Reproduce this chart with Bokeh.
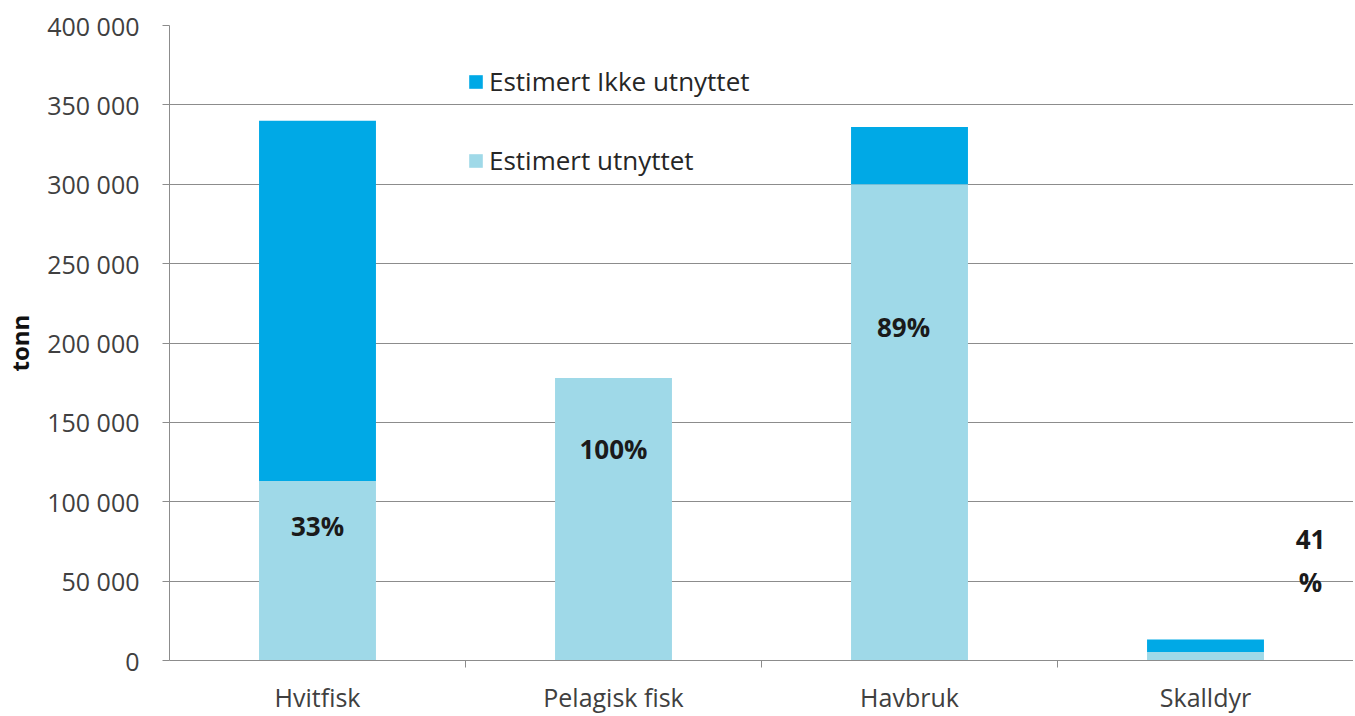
from bokeh.plotting import figure
from bokeh.models import (ColumnDataSource, FixedTicker, Range1d, Legend, LegendItem, LinearAxis, Grid)
from bokeh.core.properties import value
from bokeh.embed import file_html
from bokeh.resources import INLINE

categories = ["Hvitfisk", "Pelagisk fisk", "Havbruk", "Skalldyr"]
utnyttet = [113000, 178000, 300000, 5400]
totalt = [340000, 178000, 336000, 13200]
ikke_utnyttet = [t - u for t, u in zip(totalt, utnyttet)]
pct_labels = ["33%", "100%", "89%", "41\n%"]
pct_label_y = [85000, 133000, 210000, 63000]
pct_label_x_offset = [0.0, 0.0, -0.02, 0.355]
y_ticks = [0, 50000, 100000, 150000, 200000, 250000, 300000, 350000, 400000]
y_tick_labels = ["0", "50 000", "100 000", "150 000", "200 000", "250 000", "300 000", "350 000", "400 000"]

DARK = "#00A9E6"
LIGHT = "#9FD9E8"
GRID = "#8c8c8c"
TXT = "#404040"
FONT = "Open Sans"

xc = [i + 0.5 for i in range(len(categories))]
src = ColumnDataSource(dict(
    x=xc, util=utnyttet, tot=totalt, ikke=ikke_utnyttet,
    lx=[x + o for x, o in zip(xc, pct_label_x_offset)], ly=pct_label_y, lab=pct_labels,
))

p = figure(width=1353, height=716, output_backend="svg", toolbar_location=None,
           x_range=Range1d(0, len(categories)), y_range=Range1d(0, 400000),
           min_border_left=167, min_border_top=25, min_border_bottom=54, min_border_right=0,
           x_axis_type=None, y_axis_type=None)
p.outline_line_color = None
p.background_fill_color = "white"

r_util = p.vbar(x="x", bottom=0, top="util", width=0.395, source=src, fill_color=LIGHT, line_color=None)
r_ikke = p.vbar(x="x", bottom="util", top="tot", width=0.395, source=src, fill_color=DARK, line_color=None)

# y axis
yaxis = LinearAxis(ticker=FixedTicker(ticks=y_ticks, minor_ticks=[]))
yaxis.major_label_overrides = {t: l for t, l in zip(y_ticks, y_tick_labels)}
yaxis.axis_line_color = GRID
yaxis.major_tick_line_color = GRID
yaxis.major_tick_out = 7
yaxis.major_tick_in = 0
yaxis.minor_tick_line_color = None
yaxis.major_label_standoff = 23
yaxis.major_label_text_font = FONT
yaxis.major_label_text_font_size = "25px"
yaxis.major_label_text_color = TXT
yaxis.axis_label = "tonn"
yaxis.axis_label_text_font = FONT
yaxis.axis_label_text_font_style = "bold"
yaxis.axis_label_text_font_size = "24px"
yaxis.axis_label_text_color = "#111111"
yaxis.axis_label_standoff = 8
p.add_layout(yaxis, "left")

# x axis: labels at category centres, tick marks at boundaries
xaxis = LinearAxis(ticker=FixedTicker(ticks=xc, minor_ticks=list(range(1, len(categories)))))
xaxis.major_label_overrides = {x: c for x, c in zip(xc, categories)}
xaxis.axis_line_color = GRID
xaxis.major_tick_line_color = None
xaxis.minor_tick_line_color = GRID
xaxis.minor_tick_out = 7
xaxis.minor_tick_in = 0
xaxis.major_label_standoff = 12
xaxis.major_label_text_font = FONT
xaxis.major_label_text_font_size = "25px"
xaxis.major_label_text_color = TXT
p.add_layout(xaxis, "below")

# horizontal grid
g = Grid(dimension=1, ticker=FixedTicker(ticks=y_ticks[1:]), grid_line_color=GRID, grid_line_width=1)
p.add_layout(g)

p.text(x="lx", y="ly", text="lab", source=src, text_align="center", text_baseline="middle",
       text_font=value(FONT), text_font_style="bold", text_font_size="26px", text_color="#1a1a1a",
       text_line_height=1.2)

legend = Legend(items=[LegendItem(label="Estimert Ikke utnyttet", renderers=[r_ikke]),
                       LegendItem(label="Estimert utnyttet", renderers=[r_util])],
                location=(298, 482), orientation="vertical",
                background_fill_alpha=0, border_line_color=None,
                padding=0, margin=0, spacing=43, label_height=20,
                glyph_width=17, glyph_height=17,
                label_text_font=FONT, label_text_font_size="26px", label_text_color="#262626",
                label_standoff=5)
p.add_layout(legend, "center")

open("out.html", "w").write(file_html(p, INLINE))
